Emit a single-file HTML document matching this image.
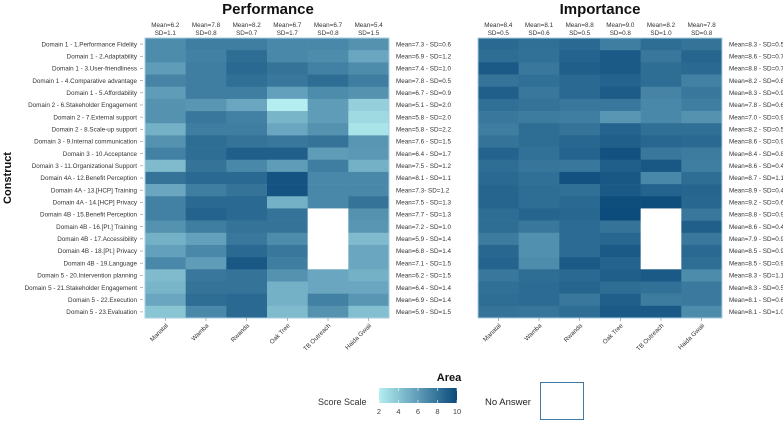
<!DOCTYPE html>
<html><head><meta charset="utf-8">
<style>
html,body{margin:0;padding:0;background:#fff;}
svg{display:block;font-family:"Liberation Sans",Arial,sans-serif;}
.sm{font-size:6.3px;fill:#333;}
</style></head>
<body>
<svg id="chart" width="783" height="422" viewBox="0 0 783 422" xmlns="http://www.w3.org/2000/svg">
<defs>
<linearGradient id="scaleGrad" x1="0" x2="1" y1="0" y2="0">
<stop offset="0" stop-color="#b4eef0"/><stop offset="0.5" stop-color="#5f9cb8"/><stop offset="1" stop-color="#0a4a7a"/>
</linearGradient>
</defs>
<text x="268" y="14" text-anchor="middle" font-size="15" font-weight="bold" fill="#111">Performance</text>
<text x="600" y="14" text-anchor="middle" font-size="15" font-weight="bold" fill="#111">Importance</text>
<text transform="translate(11,178) rotate(-90)" text-anchor="middle" font-size="11" font-weight="bold" fill="#111">Construct</text>
<g id="plots"></g>
<g>
<text x="449" y="381" text-anchor="middle" font-size="11" font-weight="bold" fill="#111">Area</text>
<text x="318" y="405" font-size="9" fill="#333">Score Scale</text>
<rect x="379" y="388" width="78" height="15" fill="url(#scaleGrad)"/>
<g id="cbticks"></g>
<text x="485" y="405" font-size="9.5" fill="#222">No Answer</text>
<rect x="540.5" y="382.5" width="43" height="37" fill="#fff" stroke="#3f7aa6" stroke-width="1"/>
</g>
</svg>
<script>
const rowLabels=["Domain 1 - 1.Performance Fidelity","Domain 1 - 2.Adaptability","Domain 1 - 3.User-friendliness","Domain 1 - 4.Comparative advantage","Domain 1 - 5.Affordability","Domain 2 - 6.Stakeholder Engagement","Domain 2 - 7.External support","Domain 2 - 8.Scale-up support","Domain 3 - 9.Internal communication","Domain 3 - 10.Acceptance","Domain 3 - 11.Organizational Support","Domain 4A - 12.Benefit Perception","Domain 4A - 13.[HCP] Training","Domain 4A - 14.[HCP] Privacy","Domain 4B - 15.Benefit Perception","Domain 4B - 16.[Pt.] Training","Domain 4B - 17.Accessibility","Domain 4B - 18.[Pt.] Privacy","Domain 4B - 19.Language","Domain 5 - 20.Intervention planning","Domain 5 - 21.Stakeholder Engagement","Domain 5 - 22.Execution","Domain 5 - 23.Evaluation"];
const areas=["Manatal","Wamba","Rwanda","Oak Tree","TB Outreach","Haida Gwaii"];
const perfValues=[
[6.8,7.5,7.5,7,7,6.5],[6.8,7.3,8.3,7,6.8,5.5],[6,7.5,8.5,8,7.3,6.8],[7.2,7.5,8.2,7.8,8.3,7.5],[6,7.5,7.5,5.8,6.8,6.5],
[6.5,6.3,5.5,2,6,3.5],[6.5,7.8,7.3,4.8,6,3],[5,7.5,7.5,5.5,6.5,2.5],[6.5,8.3,8,7.8,8,6.3],[7.3,8.3,9,9,6,6.2],
[4.5,8,7,6,7.5,5],[8,8.5,8.5,9.5,7,7],[5.5,7.5,8,9.5,7,7],[7.3,8.5,8.5,5,7,8],[7.3,8.8,8.5,8,null,6.5],
[6.5,7.5,8,8,null,6.3],[5,5.8,7.8,6.8,null,4.5],[5.8,7,8.5,7.8,null,5.5],[7,6,9.3,7.5,null,5.5],[4.5,7.8,8,6.5,5.5,5],
[4.8,8,8,5,5.5,5.5],[5.5,8.3,8.5,5,7.3,6.3],[4,7,8.5,4.5,6.5,4.3]];
const impValues=[
[8.5,8.2,8.5,7.5,8.3,8.0],[8.3,8.1,8.8,9.2,7.8,8.7],[9.2,7.8,9,9.2,8.3,8.5],[8,8.2,8.5,8.8,8.3,7.3],[9,7.8,8.5,9.1,7.2,7.8],
[8.2,8,7.8,7.8,7,7.5],[7.8,7.6,7.5,6.3,7,6.5],[7.5,8.3,8,8.8,8.2,8.2],[8,8.3,8.6,9,8.6,8.5],[8.8,8.1,8.8,9.6,7.8,7.6],
[8.3,7.9,7.8,9,9.3,7.5],[8.5,8.2,9.6,9.3,7,8.3],[8.7,8.3,8.2,9.2,8.8,8.7],[8.7,8.3,8.5,9.8,9.8,8.6],[8.3,8.7,8.6,9.9,null,7.8],
[8.3,7.8,8.4,8,null,9],[7.6,6.6,8.4,8.6,null,7.8],[8.6,6.6,8.4,9.2,null,8.5],[8.8,6.8,9.2,8.8,null,8.3],[7.8,8.3,8.5,9,9.2,6.8],
[8.2,8.4,8.7,8.3,8.1,7.7],[8.3,8.4,7.8,9,7.6,7.7],[8.0,7.9,8.3,9.2,9.2,6.8]];
const perfColLabels=[["6.2","1.1"],["7.8","0.8"],["8.2","0.7"],["6.7","1.7"],["6.7","0.8"],["5.4","1.5"]];
const impColLabels=[["8.4","0.5"],["8.1","0.6"],["8.8","0.5"],["9.0","0.8"],["8.2","1.0"],["7.8","0.8"]];
const perfRowLabels=["Mean=7.3 - SD=0.6","Mean=6.9 - SD=1.2","Mean=7.4 - SD=1.0","Mean=7.8 - SD=0.5","Mean=6.7 - SD=0.9","Mean=5.1 - SD=2.0","Mean=5.8 - SD=2.0","Mean=5.8 - SD=2.2","Mean=7.6 - SD=1.5","Mean=6.4 - SD=1.7","Mean=7.5 - SD=1.2","Mean=8.1 - SD=1.1","Mean=7.3- SD=1.2","Mean=7.5 - SD=1.3","Mean=7.7 - SD=1.3","Mean=7.2 - SD=1.0","Mean=5.9 - SD=1.4","Mean=6.8 - SD=1.4","Mean=7.1 - SD=1.5","Mean=6.2 - SD=1.5","Mean=6.4 - SD=1.4","Mean=6.9 - SD=1.4","Mean=5.9 - SD=1.5"];
const impRowLabels=["Mean=8.3 - SD=0.5","Mean=8.6 - SD=0.7","Mean=8.8 - SD=0.7","Mean=8.2 - SD=0.8","Mean=8.3 - SD=0.9","Mean=7.8 - SD=0.6","Mean=7.0 - SD=0.9","Mean=8.2 - SD=0.5","Mean=8.6 - SD=0.9","Mean=8.4 - SD=0.8","Mean=8.6 - SD=0.4","Mean=8.7 - SD=1.1","Mean=8.9 - SD=0.4","Mean=9.2 - SD=0.6","Mean=8.8 - SD=0.9","Mean=8.6 - SD=0.4","Mean=7.9 - SD=0.9","Mean=8.5 - SD=0.9","Mean=8.5 - SD=0.9","Mean=8.3 - SD=1.1","Mean=8.3 - SD=0.5","Mean=8.1 - SD=0.6","Mean=8.1 - SD=1.0"];
const scaleTicks=[2,4,6,8,10];

const NS="http://www.w3.org/2000/svg";
function mk(tag,attrs,parent){const e=document.createElementNS(NS,tag);for(const k in attrs)e.setAttribute(k,attrs[k]);parent.appendChild(e);return e;}
const stops=[[2,[180,238,240]],[6,[95,156,184]],[10,[10,74,122]]];
function color(v){
  v=Math.max(2,Math.min(10,v));
  const i=v<=6?0:1;const a=stops[i],b=stops[i+1];const t=(v-a[0])/(b[0]-a[0]);
  const c=a[1].map((x,j)=>Math.round(x+(b[1][j]-x)*t));return `rgb(${c[0]},${c[1]},${c[2]})`;
}
const gTop=38,gBot=318,rowH=(gBot-gTop)/rowLabels.length;
function yPos(r){return gTop+r*rowH;}
const plots=document.getElementById('plots');
function drawPanel(name,x0,x1,vals,colLab,rowLab,annX,withRowLabels){
  const g=mk('g',{},plots);
  
  
  const cw=(x1-x0)/areas.length;
  const xPos=c=>x0+c*cw;
  vals.forEach((row,r)=>row.forEach((v,c)=>{
    const rc=mk('rect',{x:xPos(c),y:yPos(r),width:cw+0.3,height:rowH+0.3,fill:v===null?'#ffffff':color(v)},g);
    
    
  }));
  const fr=mk('rect',{x:x0,y:gTop,width:x1-x0,height:gBot-gTop,fill:'none',stroke:'#a9cde0','stroke-width':1},g);
  
  
  colLab.forEach((l,c)=>{
    const cx=xPos(c)+cw/2;
    const t1=mk('text',{x:cx,y:27,'text-anchor':'middle',class:'sm'},g);t1.textContent='Mean='+l[0];
    
    
    const t2=mk('text',{x:cx,y:35,'text-anchor':'middle',class:'sm'},g);t2.textContent='SD='+l[1];
    
    
    mk('line',{x1:cx,x2:cx,y1:gBot,y2:gBot+3,stroke:'#888','stroke-width':0.6},g);
    const xl=mk('text',{transform:`translate(${cx+3},${gBot+8}) rotate(-45)`,'text-anchor':'end',class:'sm'},g);
    xl.textContent=areas[c];
    
    
  });
  rowLab.forEach((l,r)=>{
    const t=mk('text',{x:annX,y:yPos(r)+rowH/2+2.2,class:'sm'},g);t.textContent=l;
    
    
  });
  if(withRowLabels){
    rowLabels.forEach((l,r)=>{
      const yy=yPos(r)+rowH/2;
      const t=mk('text',{x:137,y:yy+2.2,'text-anchor':'end',class:'sm'},g);t.textContent=l;
      
      
      mk('line',{x1:140,x2:143,y1:yy,y2:yy,stroke:'#888','stroke-width':0.6},g);
    });
  }
}
drawPanel('performance',145,389,perfValues,perfColLabels,perfRowLabels,396,true);
drawPanel('importance',478,722,impValues,impColLabels,impRowLabels,729,false);
const cb=document.getElementById('cbticks');
scaleTicks.forEach(v=>{
  const x=379+(v-2)/8*78;
  mk('line',{x1:x,x2:x,y1:388,y2:391,stroke:'#fff','stroke-width':0.6},cb);
  mk('line',{x1:x,x2:x,y1:400,y2:403,stroke:'#fff','stroke-width':0.6},cb);
  const t=mk('text',{x:x,y:414,'text-anchor':'middle','font-size':7.5,fill:'#444'},cb);t.textContent=v;
  
  
});
</script>
</body></html>
